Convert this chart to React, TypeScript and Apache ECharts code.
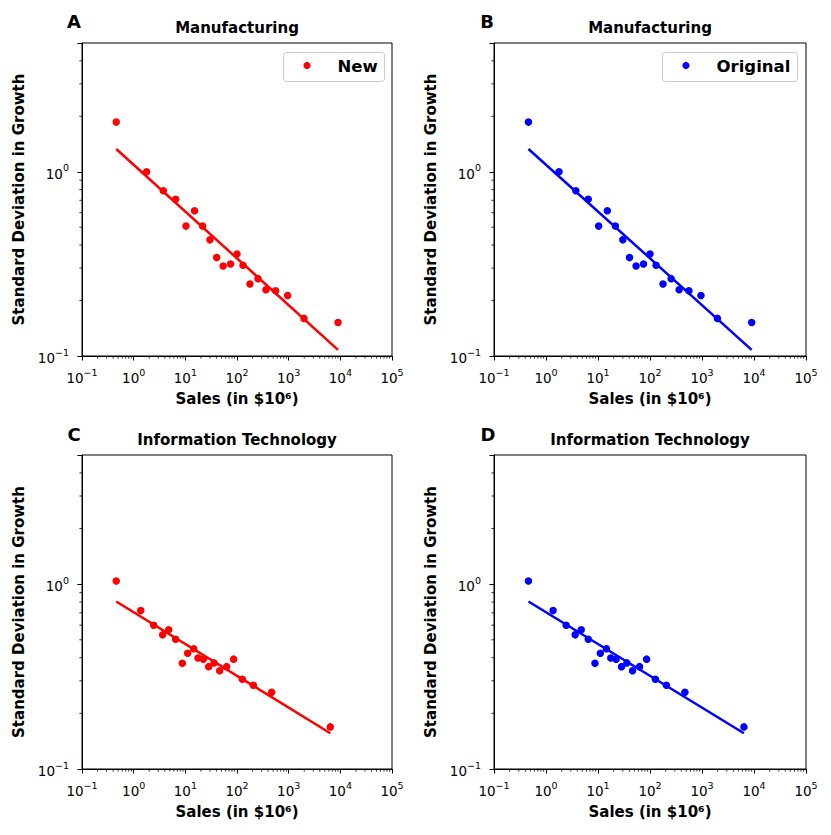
import React, { useEffect, useRef } from "react";
import * as echarts from "echarts";

// ---------- data ----------
const MFG_SALES = [0.46, 1.78, 3.75, 6.5, 10.3, 15.1, 21.6, 30, 40.4, 54, 75, 100, 131, 178, 255, 363, 560, 955, 1980, 9020];
const MFG_SD = [1.86, 1.0, 0.788, 0.71, 0.507, 0.614, 0.507, 0.427, 0.342, 0.308, 0.316, 0.358, 0.311, 0.246, 0.263, 0.229, 0.226, 0.213, 0.16, 0.152];
const MFG_FIT_X = [0.46, 9020];
const MFG_FIT_Y = [1.33, 0.108];

const IT_SALES = [0.46, 1.37, 2.44, 3.64, 4.76, 6.5, 8.75, 11.1, 14.5, 17.6, 22.3, 28.3, 35.9, 46.2, 63, 86, 127, 207, 469, 6400];
const IT_SD = [1.04, 0.72, 0.6, 0.532, 0.566, 0.504, 0.373, 0.423, 0.447, 0.399, 0.393, 0.358, 0.375, 0.34, 0.358, 0.393, 0.306, 0.284, 0.26, 0.169];
const IT_FIT_X = [0.46, 6400];
const IT_FIT_Y = [0.806, 0.156];

const X_MIN = 0.1;
const X_MAX = 100000;
const Y_MIN = 0.1;
const Y_MAX = 5;

const MINOR_X_TICKS = [
  0.2, 0.3, 0.4, 0.5, 0.6, 0.7, 0.8, 0.9,
  2, 3, 4, 5, 6, 7, 8, 9,
  20, 30, 40, 50, 60, 70, 80, 90,
  200, 300, 400, 500, 600, 700, 800, 900,
  2000, 3000, 4000, 5000, 6000, 7000, 8000, 9000,
  20000, 30000, 40000, 50000, 60000, 70000, 80000, 90000,
];
const MINOR_Y_TICKS = [0.2, 0.3, 0.4, 0.5, 0.6, 0.7, 0.8, 0.9, 2, 3, 4];

const PANEL_LETTERS = ["A", "B", "C", "D"];
const PANEL_TITLES = ["Manufacturing", "Manufacturing", "Information Technology", "Information Technology"];
const LEGEND_NAMES = ["New", "Original"];
const X_NAME = "Sales (in $10\u2076)";
const Y_NAME = "Standard Deviation in Growth";

// ---------- layout ----------
const FONT = "DejaVu Sans";
const RED = "#ff0000";
const BLUE = "#0000ff";

const GRIDS = [
  { left: 82, top: 43, width: 310, height: 313 },
  { left: 494, top: 43, width: 312, height: 313 },
  { left: 82, top: 455, width: 310, height: 314 },
  { left: 494, top: 455, width: 312, height: 314 },
];

// legend boxes (panels A and B): x, y, width, height
const LEGEND_BOXES = [
  { x: 283, y: 52, w: 101, h: 29 },
  { x: 662, y: 52, w: 135, h: 29 },
];

function powLabel(v: number): string {
  const e = Math.log10(v);
  const r = Math.round(e);
  if (Math.abs(e - r) > 1e-6) return "";
  const exp = r < 0 ? "\u2212" + String(-r) : String(r);
  return "{b|10}{s|" + exp + "}";
}

const TICK_RICH = {
  b: { fontFamily: FONT, fontSize: 13.5, color: "#000", lineHeight: 18, verticalAlign: "bottom" },
  s: { fontFamily: FONT, fontSize: 9.5, color: "#000", lineHeight: 9.5, verticalAlign: "top" },
};

function buildOption() {
  const panels = [
    { sales: MFG_SALES, sd: MFG_SD, fx: MFG_FIT_X, fy: MFG_FIT_Y, color: RED, name: LEGEND_NAMES[0] },
    { sales: MFG_SALES, sd: MFG_SD, fx: MFG_FIT_X, fy: MFG_FIT_Y, color: BLUE, name: LEGEND_NAMES[1] },
    { sales: IT_SALES, sd: IT_SD, fx: IT_FIT_X, fy: IT_FIT_Y, color: RED, name: LEGEND_NAMES[0] },
    { sales: IT_SALES, sd: IT_SD, fx: IT_FIT_X, fy: IT_FIT_Y, color: BLUE, name: LEGEND_NAMES[1] },
  ];

  const grid = GRIDS.map((g) => ({
    ...g,
    show: true,
    borderColor: "#000",
    borderWidth: 1,
    backgroundColor: "#fff",
    containLabel: false,
  }));

  const axisCommon = {
    type: "log",
    logBase: 10,
    axisLine: { show: true, lineStyle: { color: "#000", width: 1 } },
    axisTick: { show: true, length: 4.5, lineStyle: { color: "#000", width: 1 } },
    splitLine: { show: false },
  };

  const xAxis = GRIDS.map((_, i) => ({
    ...axisCommon,
    gridIndex: i,
    min: X_MIN,
    max: X_MAX,
    axisLabel: {
      show: true,
      margin: 11,
      color: "#000",
      fontFamily: FONT,
      fontSize: 13.5,
      showMinLabel: true,
      showMaxLabel: true,
      formatter: (v: number) => powLabel(v),
      rich: TICK_RICH,
    },
  }));

  const yAxis = GRIDS.map((_, i) => ({
    ...axisCommon,
    gridIndex: i,
    min: Y_MIN,
    max: Y_MAX,
    axisLabel: {
      show: true,
      margin: 13,
      color: "#000",
      fontFamily: FONT,
      fontSize: 13.5,
      showMinLabel: true,
      showMaxLabel: true,
      formatter: (v: number) => powLabel(v),
      rich: TICK_RICH,
    },
  }));

  const series: any[] = [];
  panels.forEach((p, i) => {
    series.push({
      type: "scatter",
      name: p.name,
      xAxisIndex: i,
      yAxisIndex: i,
      symbol: "circle",
      symbolSize: 7.5,
      itemStyle: { color: p.color, opacity: 1 },
      data: p.sales.map((s, k) => [s, p.sd[k]]),
      z: 3,
    });
    series.push({
      type: "line",
      name: "fit" + i,
      xAxisIndex: i,
      yAxisIndex: i,
      showSymbol: false,
      symbol: "none",
      lineStyle: { color: p.color, width: 2.5 },
      data: p.fx.map((x, k) => [x, p.fy[k]]),
      z: 4,
    });
    series.push({
      type: "custom",
      name: "xminor" + i,
      xAxisIndex: i,
      yAxisIndex: i,
      silent: true,
      clip: false,
      data: MINOR_X_TICKS.map((v) => [v, Y_MIN]),
      renderItem: (params: any, api: any) => {
        const pt = api.coord([api.value(0), api.value(1)]);
        return {
          type: "line",
          shape: { x1: pt[0], y1: pt[1], x2: pt[0], y2: pt[1] + 2.6 },
          style: { stroke: "#000", lineWidth: 0.8 },
        };
      },
      z: 5,
    });
    series.push({
      type: "custom",
      name: "yminor" + i,
      xAxisIndex: i,
      yAxisIndex: i,
      silent: true,
      clip: false,
      data: MINOR_Y_TICKS.map((v) => [X_MIN, v]),
      renderItem: (params: any, api: any) => {
        const pt = api.coord([api.value(0), api.value(1)]);
        return {
          type: "line",
          shape: { x1: pt[0], y1: pt[1], x2: pt[0] - 2.6, y2: pt[1] },
          style: { stroke: "#000", lineWidth: 0.8 },
        };
      },
      z: 5,
    });
  });

  const graphic: any[] = [];

  // legends (drawn as graphic so that marker and text sit exactly as in matplotlib)
  LEGEND_BOXES.forEach((b, i) => {
    const color = i === 0 ? RED : BLUE;
    graphic.push({
      type: "group",
      z: 50,
      children: [
        {
          type: "rect",
          shape: { x: b.x + 0.5, y: b.y + 0.5, width: b.w, height: b.h, r: 3 },
          style: { fill: "rgba(255,255,255,0.8)", stroke: "#cccccc", lineWidth: 1 },
        },
        {
          type: "circle",
          shape: { cx: b.x + 24, cy: b.y + 13.5, r: 3.6 },
          style: { fill: color },
        },
        {
          type: "text",
          x: b.x + 54.5,
          y: b.y + 14.5,
          style: {
            text: LEGEND_NAMES[i],
            font: `bold 16.5px "${FONT}"`,
            fill: "#000",
            align: "left",
            verticalAlign: "middle",
          },
        },
      ],
    });
  });

  const letterPos = [
    [74, 21],
    [487, 21],
    [74, 434],
    [488, 434],
  ];
  GRIDS.forEach((g, i) => {
    const cx = g.left + g.width / 2;
    const cy = g.top + g.height / 2;
    graphic.push({
      type: "text",
      x: letterPos[i][0],
      y: letterPos[i][1],
      style: {
        text: PANEL_LETTERS[i],
        font: `bold 18px "${FONT}"`,
        fill: "#000",
        align: "center",
        verticalAlign: "middle",
      },
    });
    graphic.push({
      type: "text",
      x: cx,
      y: g.top - 15,
      style: {
        text: PANEL_TITLES[i],
        font: `bold 15px "${FONT}"`,
        fill: "#000",
        align: "center",
        verticalAlign: "middle",
      },
    });
    graphic.push({
      type: "text",
      x: cx,
      y: g.top + g.height + 43,
      style: {
        text: X_NAME,
        font: `bold 15px "${FONT}"`,
        fill: "#000",
        align: "center",
        verticalAlign: "middle",
      },
    });
    graphic.push({
      type: "text",
      x: g.left - 63.5,
      y: cy,
      rotation: Math.PI / 2,
      style: {
        text: Y_NAME,
        font: `bold 15px "${FONT}"`,
        fill: "#000",
        align: "center",
        verticalAlign: "middle",
      },
    });
  });

  return {
    animation: false,
    backgroundColor: "#fff",
    grid,
    xAxis,
    yAxis,
    series,
    graphic,
  };
}

export default function App() {
  const ref = useRef<HTMLDivElement>(null);
  useEffect(() => {
    if (!ref.current) return;
    const chart = echarts.init(ref.current, undefined, { renderer: "svg" });
    chart.setOption(buildOption() as any);
    return () => chart.dispose();
  }, []);
  return (
    <div
      ref={ref}
      style={{ position: "absolute", left: 0, top: 0, width: 831, height: 835, background: "#fff" }}
    />
  );
}
